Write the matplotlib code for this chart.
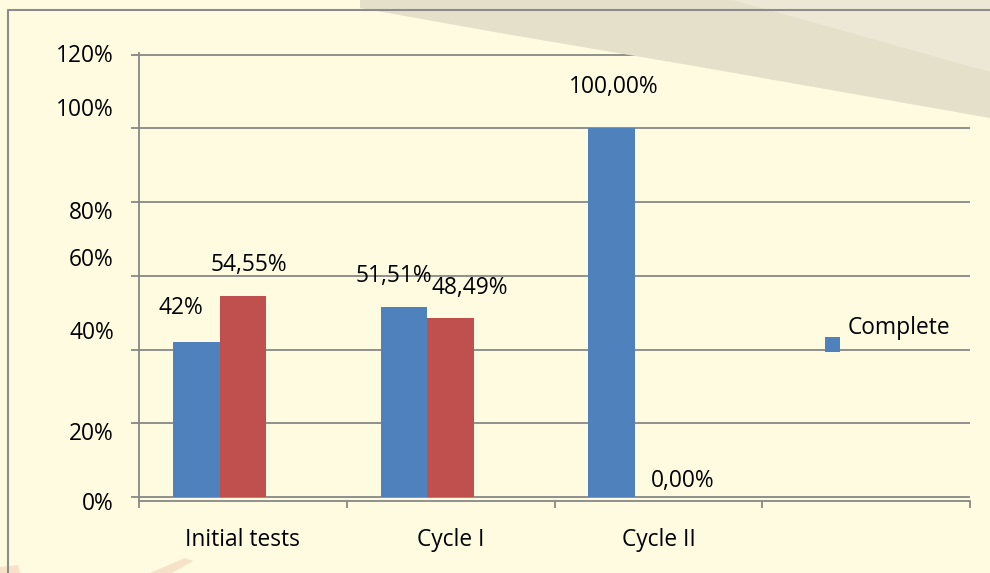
import matplotlib
matplotlib.use("Agg")
import matplotlib.pyplot as plt
import numpy as np
from matplotlib.patches import Rectangle, Polygon
from matplotlib.lines import Line2D
from matplotlib.legend_handler import HandlerPatch

plt.rcParams['font.family'] = ['Open Sans', 'DejaVu Sans']

# ---------------- data ----------------
categories = ['Initial tests', 'Cycle I', 'Cycle II', '']
series_blue = [42.0, 51.51, 100.0, np.nan]
series_red = [54.55, 48.49, 0.0, np.nan]
labels_blue = ['42%', '51,51%', '100,00%', '']
labels_red = ['54,55%', '48,49%', '0,00%', '']
legend_label = 'Complete'
grid_values = [0, 20, 40, 60, 80, 100, 120]
ytick_text = ['0%', '20%', '40%', '60%', '80%', '100%', '120%']
# where the axis texts sit in the reference (data units)
ytick_text_pos = [-1.0, 17.9, 45.2, 65.1, 77.8, 105.8, 120.5]

# label offsets from bar top (pixels: dx, dy up)
off_blue = [(-15, 34), (-10.5, 31.4), (2, 41.4)]
off_red = [(6.5, 31), (19.5, 30.7), (24.5, 15.7)]

W, H = 990, 573
fig = plt.figure(figsize=(W / 100, H / 100), dpi=100)
fig.patch.set_facecolor('#FEFBE0')

def px(x, y):
    return (x / W, 1 - y / H)

# decorative swoosh background
fig.patches.append(Polygon([px(*p) for p in [(360, 0), (990, 0), (990, 118), (700, 67), (500, 33), (360, 8)]],
                           closed=True, transform=fig.transFigure, facecolor='#E5E0CA', edgecolor='none', zorder=0))
fig.patches.append(Polygon([px(*p) for p in [(733, 0), (990, 0), (990, 72)]],
                           closed=True, transform=fig.transFigure, facecolor='#EDE8D5', edgecolor='none', zorder=0))
fig.patches.append(Polygon([px(*p) for p in [(150, 573), (185, 558), (193, 561), (172, 573)]],
                           closed=True, transform=fig.transFigure, facecolor='#F5E2C8', edgecolor='none', zorder=0))
fig.patches.append(Polygon([px(*p) for p in [(0, 567), (18, 565), (20, 573), (0, 573)]],
                           closed=True, transform=fig.transFigure, facecolor='#F5E2C8', edgecolor='none', zorder=0))

# outer frame
fig.add_artist(Line2D([8 / W, 8 / W, 1.0], [0.0, 1 - 10 / H, 1 - 10 / H], transform=fig.transFigure,
                      color='#8C8C8C', lw=1.5, zorder=1))

left, right, top, bottom = 139, 970, 52.7, 500.7
ax = fig.add_axes([left / W, 1 - bottom / H, (right - left) / W, (bottom - top) / H])
ax.set_facecolor('none')

x = np.arange(len(categories))
bw = 0.225
blue_bars = ax.bar(x - bw, series_blue, width=bw, color='#4F81BD', zorder=3, label=legend_label)
red_bars = ax.bar(x, series_red, width=bw, color='#C0504D', zorder=3)

ax.set_xlim(-0.5, len(categories) - 0.5)
ax.set_ylim(0, 120)

fs = 16.4
for bars, labs, offs in [(blue_bars, labels_blue, off_blue), (red_bars, labels_red, off_red)]:
    for b, lab, off in zip(bars, labs, offs):
        ax.annotate(lab, (b.get_x() + b.get_width() / 2, b.get_height()),
                    xytext=(off[0] * 0.72, off[1] * 0.72), textcoords='offset points',
                    ha='center', va='center', fontsize=fs, color='black', zorder=5)

# grid / ticks
gcol = '#878787'
ax.set_yticks(grid_values)
ax.set_yticklabels([])
ax.set_yticks(ytick_text_pos, minor=True)
ax.set_yticklabels(ytick_text, minor=True, fontsize=fs)
ax.tick_params(axis='y', which='major', length=6, width=1.3, color=gcol, direction='out')
ax.tick_params(axis='y', which='minor', length=0, pad=18)
ax.yaxis.grid(True, which='major', color=gcol, lw=1.3, zorder=1)
ax.set_axisbelow(True)

ax.set_xticks(np.arange(len(categories) + 1) - 0.5)
ax.set_xticklabels([])
ax.set_xticks(x, minor=True)
ax.set_xticklabels(categories, minor=True, fontsize=fs)
ax.tick_params(axis='x', which='major', length=5, width=1.3, color=gcol, direction='out')
ax.tick_params(axis='x', which='minor', length=0, pad=20)

for s in ['top', 'right']:
    ax.spines[s].set_visible(False)
for s in ['left', 'bottom']:
    ax.spines[s].set_color(gcol)
    ax.spines[s].set_linewidth(1.3)

# legend with a square marker sitting lower than the text
def make_square(legend, orig_handle, xdescent, ydescent, width, height, fontsize=None):
    s = 10.8
    return Rectangle((-xdescent, -ydescent - 13), s, s)

leg = ax.legend([blue_bars.patches[0]], [legend_label], loc='lower left',
                bbox_to_anchor=(825 / W, 1 - 340 / H),
                bbox_transform=fig.transFigure, frameon=False, fontsize=fs, borderpad=0,
                borderaxespad=0, handlelength=0.66, handleheight=0.66, handletextpad=0.35,
                handler_map={Rectangle: HandlerPatch(patch_func=make_square)})

fig.savefig('out.png', dpi=100, facecolor=fig.get_facecolor())
